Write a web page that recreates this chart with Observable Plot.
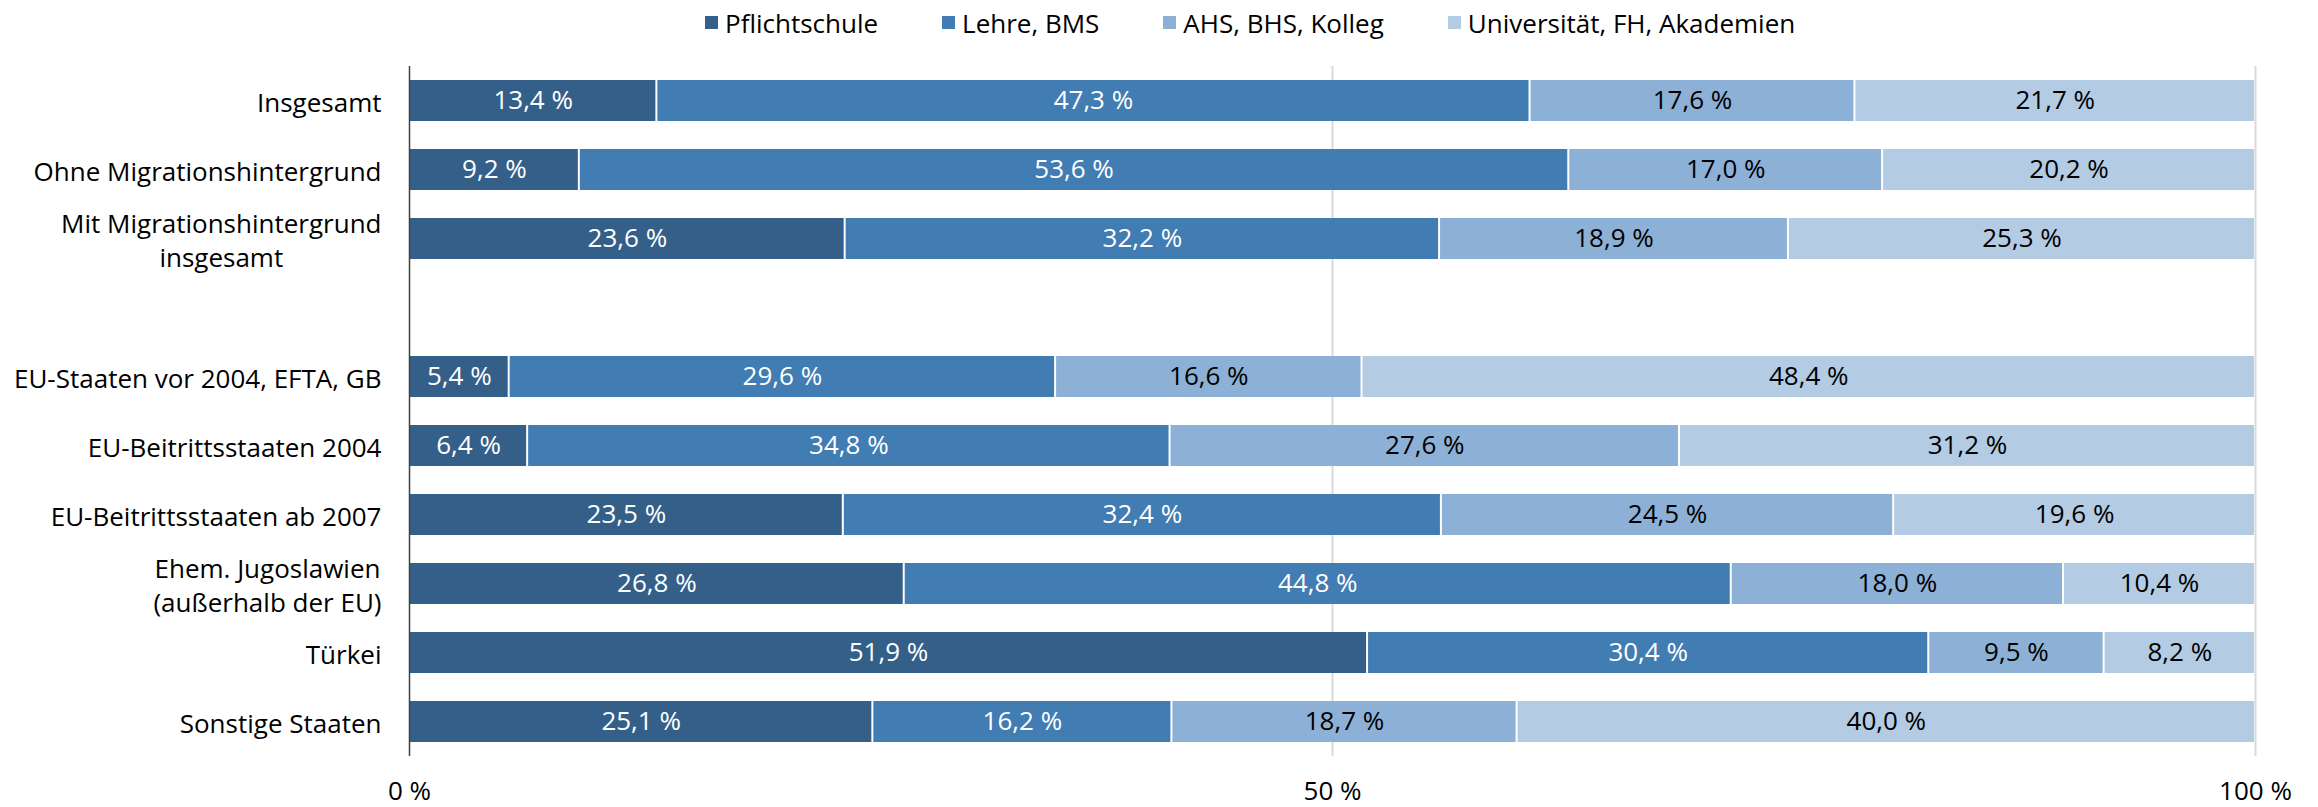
<!DOCTYPE html>
<html><head><meta charset="utf-8">
<script src="https://cdn.jsdelivr.net/npm/d3@7"></script>
<script src="https://cdn.jsdelivr.net/npm/@observablehq/plot@0.6"></script>
<style>
body{margin:0;background:#fff;font-family:"Open Sans", Lato, sans-serif;}
#legend{height:45px;display:flex;align-items:center;padding-left:705px;gap:64px;font-size:26px;color:#000;box-sizing:border-box}
.item{display:flex;align-items:center;gap:7px}
.sw{width:13px;height:13px;display:inline-block}
</style></head><body>
<div id="legend"></div><div id="chart"></div>
<script>
const groups = ["Insgesamt", "Ohne Migrationshintergrund", "Mit Migrationshintergrund\ninsgesamt",
  "EU-Staaten vor 2004, EFTA, GB", "EU-Beitrittsstaaten 2004", "EU-Beitrittsstaaten ab 2007",
  "Ehem. Jugoslawien\n(außerhalb der EU)", "Türkei", "Sonstige Staaten"];
const levels = ["Pflichtschule", "Lehre, BMS", "AHS, BHS, Kolleg", "Universität, FH, Akademien"];
const pflichtschule = [13.4, 9.2, 23.6, 5.4, 6.4, 23.5, 26.8, 51.9, 25.1];
const lehreBMS      = [47.3, 53.6, 32.2, 29.6, 34.8, 32.4, 44.8, 30.4, 16.2];
const ahsBhsKolleg  = [17.6, 17.0, 18.9, 16.6, 27.6, 24.5, 18.0, 9.5, 18.7];
const universitaet  = [21.7, 20.2, 25.3, 48.4, 31.2, 19.6, 10.4, 8.2, 40.0];
const xTicks = [0, 50, 100];
const colors = ["#335F89", "#417CB3", "#8DB1D6", "#B3CBE3"];
const textColors = ["#ffffff", "#ffffff", "#000000", "#000000"];
const GAP = "__gap__";
const yDomain = [...groups.slice(0, 3), GAP, ...groups.slice(3)];

const series = [pflichtschule, lehreBMS, ahsBhsKolleg, universitaet];
const data = [];
groups.forEach((g, i) => {
  let acc = 0;
  series.forEach((s, j) => {
    const v = s[i];
    data.push({group: g, level: levels[j], li: j, value: v, x1: acc, x2: acc + v, xm: acc + v / 2});
    acc += v;
  });
});
const fmt = v => v.toFixed(1).replace(".", ",") + " %";

// legend
const leg = document.getElementById("legend");
levels.forEach((l, i) => {
  const it = document.createElement("div"); it.className = "item";
  const sw = document.createElement("span"); sw.className = "sw"; sw.style.background = colors[i];
  const tx = document.createElement("span"); tx.textContent = l;
  it.appendChild(sw); it.appendChild(tx); leg.appendChild(it);
});

const FONT = "'Open Sans', Lato, sans-serif";
const FS = 26;
const chart = Plot.plot({
  width: 2318, height: 762,
  marginLeft: 409, marginRight: 63, marginTop: 21, marginBottom: 51,
  style: {fontFamily: FONT, fontSize: FS + "px", color: "#000", background: "#fff"},
  x: {domain: [0, 100], label: null},
  y: {domain: yDomain, paddingInner: 0.406, paddingOuter: 0.203, label: null},
  color: {domain: levels, range: colors},
  marks: [
    Plot.ruleX(xTicks.slice(1), {stroke: "#d9d9d9", strokeWidth: 2, strokeOpacity: 1}),
    Plot.barX(data, {x1: "x1", x2: "x2", y: "group", fill: "level", insetLeft: 1, insetRight: 1}),
    Plot.text(data, {x: "xm", y: "group", text: d => fmt(d.value), fill: d => textColors[d.li], fontSize: FS}),
    Plot.ruleX([0], {stroke: "#404040", strokeWidth: 1.5}),
    Plot.axisY({tickSize: 0, tickPadding: 28, fontSize: FS, lineHeight: 1.33, fill: "#000", label: null,
      tickFormat: d => d === GAP ? "" : d}),
    Plot.axisX({ticks: xTicks, tickSize: 0, tickPadding: 25, fontSize: FS, fill: "#000", label: null,
      tickFormat: d => d + " %"})
  ]
});
document.getElementById("chart").appendChild(chart);

// center multi-line y labels within their right-aligned block
chart.querySelectorAll('[aria-label="y-axis tick label"] text').forEach(t => {
  const spans = t.querySelectorAll("tspan");
  if (spans.length > 1) {
    const bb = t.getBBox();
    const R = bb.x + bb.width;
    t.setAttribute("text-anchor", "middle");
    spans.forEach(s => s.setAttribute("x", R - bb.width / 2));
  }
});
</script>
</body></html>
